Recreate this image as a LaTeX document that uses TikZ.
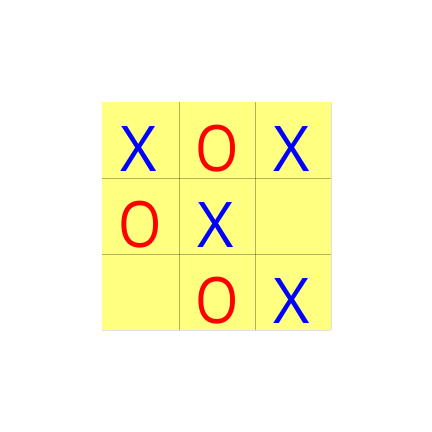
\documentclass[tikz,border=0pt]{standalone}
\usepackage{fontspec}
\setmainfont{Open Sans}
\newfontfamily\ofont[FakeStretch=0.87]{Open Sans}
\begin{document}
\begin{tikzpicture}[x=1pt,y=-1pt,
  markx/.style={text=blue,font=\fontsize{63}{63}\selectfont,anchor=center},
  marko/.style={text=red,font=\ofont\fontsize{64}{64}\selectfont,anchor=center},
  gridline/.style={draw=black,draw opacity=0.3,line width=1pt},
  edgeline/.style={draw=black,draw opacity=0.12,line width=1pt}]
\useasboundingbox (0,0) rectangle (432,432);
\fill[fill={rgb,255:red,255;green,255;blue,128}] (102,102) rectangle (331,330);
\draw[gridline] (179,102) -- (179,330);
\draw[gridline] (255,102) -- (255,330);
\draw[gridline] (102,178) -- (331,178);
\draw[gridline] (102,254) -- (331,254);
\draw[edgeline] (331,102) -- (331,330);
\draw[edgeline] (102,330) -- (331,330);
\node[markx] (c00) at (139,149) {X};
\node[marko] (c01) at (217,149) {O};
\node[markx] (c02) at (292,149) {X};
\node[marko] (c10) at (140,225) {O};
\node[markx] (c11) at (216,225) {X};
\node[marko] (c21) at (217,301) {O};
\node[markx] (c22) at (292,301) {X};
\end{tikzpicture}
\end{document}
